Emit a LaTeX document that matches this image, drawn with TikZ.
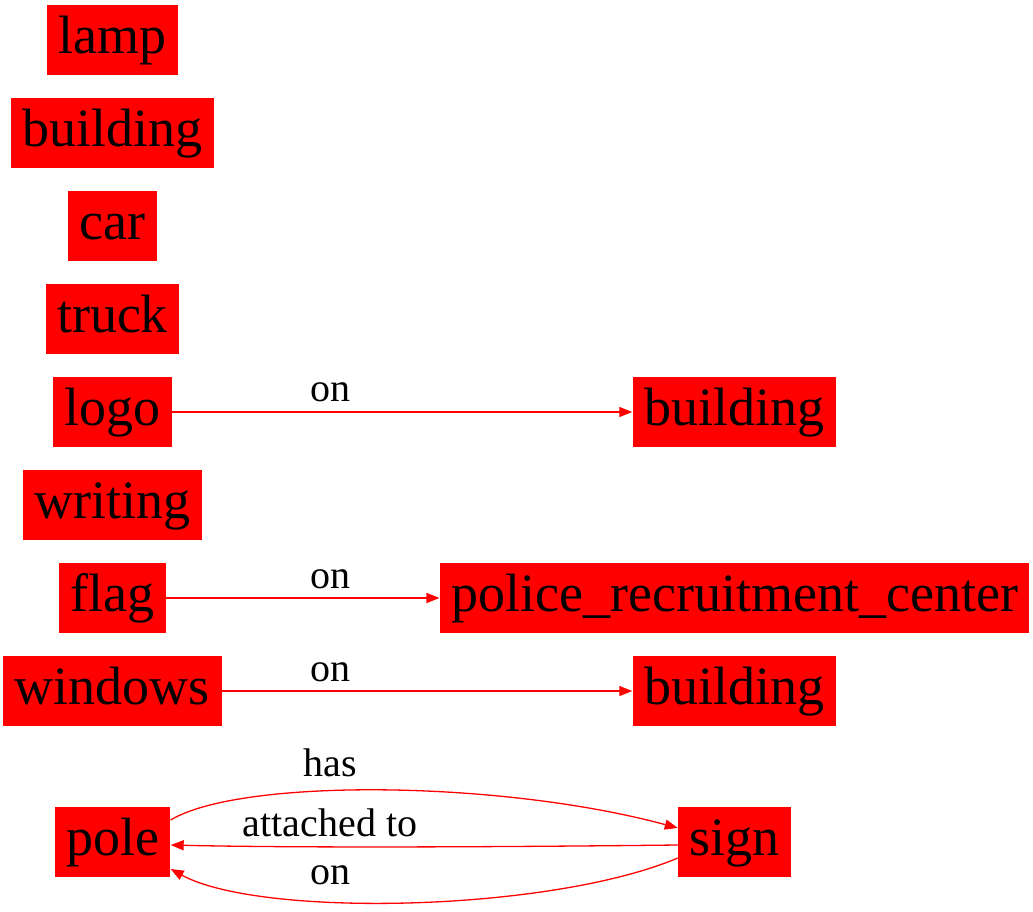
\documentclass[tikz,border=0pt]{standalone}
\usepackage{fontspec}
\setmainfont{Liberation Serif}
\usetikzlibrary{arrows.meta}
\begin{document}
\begin{tikzpicture}[x=1pt,y=-1pt,
  box/.style={fill=red, inner xsep=11.5pt, inner ysep=0pt, minimum height=70pt,
    text height=37pt, text depth=10pt, font=\fontsize{54}{62}\selectfont},
  lbl/.style={inner sep=0pt, anchor=base, font=\fontsize{40}{46}\selectfont},
  edge/.style={draw=red, line width=1.3pt, -{Triangle[length=13pt,width=10pt]}}]
\useasboundingbox (0,0) rectangle (1033,912);
% left column
\node[box] (lamp) at (112.5,40) {lamp};
\node[box] (building1) at (112.5,133) {building};
\node[box] (car) at (112.5,226) {car};
\node[box] (truck) at (112.5,319) {truck};
\node[box] (logo) at (112.5,412) {logo};
\node[box] (writing) at (112.5,505) {writing};
\node[box] (flag) at (112.5,598) {flag};
\node[box] (windows) at (112.5,691) {windows};
\node[box] (pole) at (112.5,842) {pole};
% right column
\node[box] (building2) at (734,412) {building};
\node[box] (police) at (734.5,598) {police\_recruitment\_center};
\node[box] (building3) at (734,691) {building};
\node[box] (sign) at (734.5,842) {sign};
% edges
\draw[edge] (logo.east) -- (building2.west);
\node[lbl] (l1) at (330,401) {on};
\draw[edge] (flag.east) -- (police.west);
\node[lbl] (l2) at (330,588) {on};
\draw[edge] (windows.east) -- (building3.west);
\node[lbl] (l3) at (330,681) {on};
\coordinate (poleA) at ([yshift=22pt]pole.east);
\coordinate (signA) at ([yshift=14pt]sign.west);
\draw[edge] (poleA) .. controls (240,778) and (500,780) .. (signA);
\node[lbl] (l4) at (330,776) {has};
\coordinate (signB) at ([yshift=-3pt]sign.west);
\coordinate (poleB) at ([yshift=-3pt]pole.east);
\draw[edge] (signB) .. controls (500,847) and (300,848) .. (poleB);
\node[lbl] (l5) at (330,836) {attached to};
\coordinate (signC) at ([yshift=-16pt]sign.west);
\coordinate (poleC) at ([yshift=-27pt]pole.east);
\draw[edge] (signC) .. controls (550,912) and (260,918) .. (poleC);
\node[lbl] (l6) at (330,884) {on};
\end{tikzpicture}
\end{document}
